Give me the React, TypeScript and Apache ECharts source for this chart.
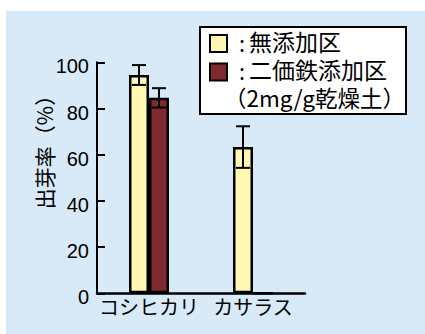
import React, { useEffect, useRef } from "react";
import * as echarts from "echarts";

// Germination rate by cultivar, with and without ferrous iron added to soil
const cultivars = ["コシヒカリ", "カサラス"];
const seriesNames = ["無添加区", "二価鉄添加区"];
const doseNote = "（2mg/g乾燥土）";
const controlRate = [94.5, 63.3];
const controlErr = [4.3, 9.0];
const ironRate = [84.6, 0];
const ironErr = [4.2, 0];
const yTicks = [0, 20, 40, 60, 80, 100];
const yAxisTitle = "出芽率（%）";

const YELLOW = "#fff7b2";
const DARK_RED = "#7e2a2e";
const BG = "#d8eaf8";
const BAR_W = 20;
const CJK = "'Noto Sans CJK JP', 'Noto Sans', sans-serif";
const NUM = "'Liberation Sans', Arial, sans-serif";

function errorSeries(values: number[], errs: number[], offset: number) {
  return {
    type: "custom",
    z: 5,
    data: values.map((v, i) => [i, v, errs[i]]),
    renderItem: (params: any, api: any) => {
      const idx = api.value(0);
      const v = api.value(1);
      const e = api.value(2);
      if (!e) return null;
      const top = api.coord([idx, v + e]);
      const bot = api.coord([idx, v - e]);
      const x = top[0] + offset;
      const half = 7;
      const style = { stroke: "#000", lineWidth: 2 };
      return {
        type: "group",
        children: [
          { type: "line", shape: { x1: x, y1: top[1], x2: x, y2: bot[1] }, style },
          { type: "line", shape: { x1: x - half, y1: top[1], x2: x + half, y2: top[1] }, style },
          { type: "line", shape: { x1: x - half, y1: bot[1], x2: x + half, y2: bot[1] }, style },
        ],
      };
    },
  };
}

export default function App() {
  const ref = useRef<HTMLDivElement>(null);

  useEffect(() => {
    if (!ref.current) return;
    const chart = echarts.init(ref.current, undefined, { renderer: "svg" });
    const legendSwatches = [YELLOW, DARK_RED];
    chart.setOption({
      animation: false,
      backgroundColor: "#ffffff",
      grid: { left: 97, top: 62.3, width: 208, height: 231 },
      xAxis: {
        type: "category",
        data: cultivars,
        axisLine: { lineStyle: { color: "#000", width: 2.5 } },
        axisTick: { show: false },
        axisLabel: {
          interval: 0,
          color: "#000",
          fontFamily: CJK,
          fontSize: 20,
          margin: 3,
        },
      },
      yAxis: {
        type: "value",
        min: yTicks[0],
        max: yTicks[yTicks.length - 1],
        interval: 20,
        splitLine: { show: false },
        axisLine: { show: true, lineStyle: { color: "#000", width: 2 } },
        axisTick: { show: true, inside: true, length: 8, lineStyle: { color: "#000", width: 2 } },
        axisLabel: {
          color: "#000",
          fontFamily: NUM,
          fontSize: 20,
          margin: 8,
          verticalAlign: "top",
          lineHeight: 8,
        },
      },
      series: [
        {
          name: seriesNames[0],
          type: "bar",
          data: controlRate,
          barWidth: BAR_W,
          barGap: "0%",
          itemStyle: { color: YELLOW, borderColor: "#000", borderWidth: 2.5 },
        },
        {
          name: seriesNames[1],
          type: "bar",
          data: ironRate,
          barWidth: BAR_W,
          barGap: "0%",
          itemStyle: { color: DARK_RED, borderColor: "#000", borderWidth: 2.5 },
        },
        errorSeries(controlRate, controlErr, -BAR_W / 2),
        errorSeries(ironRate, ironErr, BAR_W / 2),
      ],
      graphic: [
        {
          type: "rect",
          z: -10,
          silent: true,
          shape: { x: 6, y: 11, width: 425, height: 330 },
          style: { fill: BG },
        },
        {
          type: "text",
          x: 44,
          y: 147,
          rotation: Math.PI / 2,
          style: {
            text: yAxisTitle,
            fill: "#000",
            font: `21px ${CJK}`,
            align: "center",
            verticalAlign: "middle",
          },
        },
        {
          type: "group",
          z: 10,
          children: [
            {
              type: "rect",
              shape: { x: 200, y: 27, width: 206, height: 87 },
              style: { fill: "#fff", stroke: "#000", lineWidth: 2 },
            },
            ...seriesNames.flatMap((n, i) => [
              {
                type: "rect",
                shape: { x: 210, y: 35 + i * 28.5, width: 17, height: 17 },
                style: { fill: legendSwatches[i], stroke: "#000", lineWidth: 2 },
              },
              {
                type: "text",
                x: 239,
                y: 42 + i * 28,
                style: {
                  text: ":",
                  fill: "#000",
                  font: `22px ${CJK}`,
                  lineHeight: 18,
                  verticalAlign: "middle",
                },
              },
              {
                type: "text",
                x: 249,
                y: 41 + i * 28,
                style: {
                  text: n,
                  fill: "#000",
                  font: `23px ${CJK}`,
                  lineHeight: 20,
                  verticalAlign: "middle",
                },
              },
            ]),
            {
              type: "text",
              x: 224,
              y: 97,
              style: {
                text: doseNote,
                fill: "#000",
                font: `22.5px ${CJK}`,
                lineHeight: 18,
                verticalAlign: "middle",
              },
            },
          ],
        },
      ],
    });
    return () => chart.dispose();
  }, []);

  return (
    <div
      ref={ref}
      style={{ position: "absolute", left: 0, top: 0, width: 425, height: 334 }}
    />
  );
}
